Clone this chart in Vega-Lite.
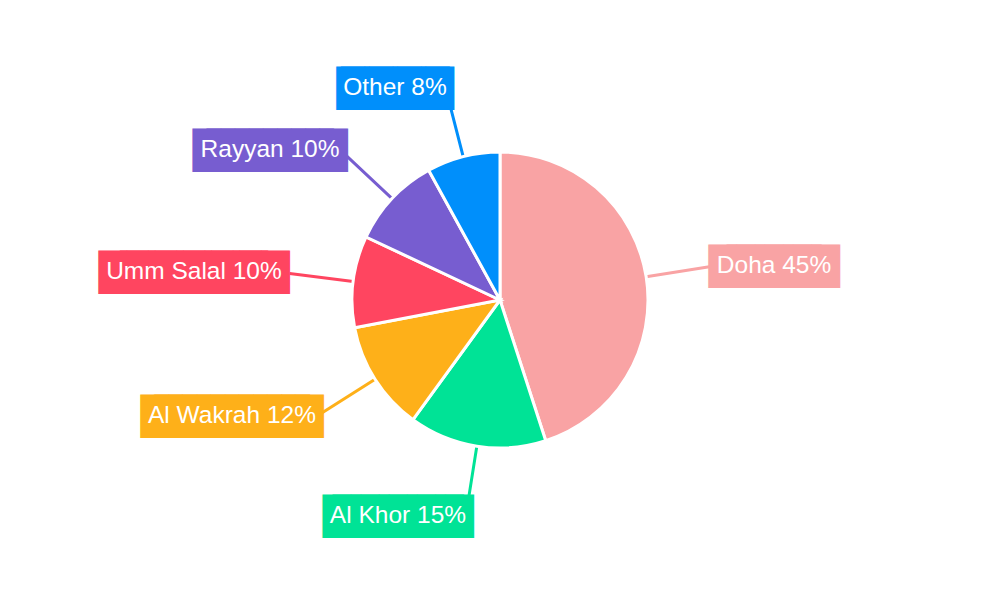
{
  "$schema": "https://vega.github.io/schema/vega-lite/v6.json",
  "width": 1000,
  "height": 600,
  "autosize": {"type": "fit", "contains": "padding"},
  "background": "white",
  "view": {"stroke": null},
  "data": {
    "values": [
      {"region": "Doha", "share": 45},
      {"region": "Al Khor", "share": 15},
      {"region": "Al Wakrah", "share": 12},
      {"region": "Umm Salal", "share": 10},
      {"region": "Rayyan", "share": 10},
      {"region": "Other", "share": 8}
    ]
  },
  "transform": [
    {"stack": "share", "groupby": [], "as": ["start", "end"]},
    {"calculate": "(datum.start + datum.end) / 2", "as": "mid"},
    {"calculate": "datum.region + ' ' + datum.share + '%'", "as": "label"}
  ],
  "config": {
    "text": {"font": "Liberation Sans", "fontSize": 24.5, "baseline": "middle", "align": "center", "radius": 210}
  },
  "encoding": {
    "theta": {"field": "mid", "type": "quantitative", "stack": null, "scale": {"domain": [0, 100]}},
    "color": {
      "field": "region",
      "type": "nominal",
      "legend": null,
      "scale": {
        "domain": ["Doha", "Al Khor", "Al Wakrah", "Umm Salal", "Rayyan", "Other"],
        "range": ["#F9A3A4", "#00E396", "#FEB019", "#FF4560", "#775DD0", "#008FFB"]
      }
    }
  },
  "layer": [
    {
      "mark": {"type": "arc", "filled": false, "strokeWidth": 3, "radius": 212, "radius2": 140},
      "encoding": {"theta2": {"field": "mid"}}
    },
    {
      "mark": {"type": "arc", "radius": 148, "stroke": "white", "strokeWidth": 3},
      "encoding": {
        "theta": {"field": "start", "type": "quantitative", "stack": null},
        "theta2": {"field": "end"}
      }
    },
    {
      "transform": [{"filter": "datum.region == 'Doha'"}],
      "layer": [
        {"mark": {"type": "text", "text": "████", "font": "DejaVu Sans", "fontSize": 36.7, "dx": 57.4, "dy": 0.8}},
        {"mark": {"type": "text", "text": "████", "font": "DejaVu Sans", "fontSize": 36.7, "dx": 75.8, "dy": 0.8}},
        {"mark": {"type": "text", "dx": 66.6, "dy": -1.2}, "encoding": {"text": {"field": "label"}, "color": {"value": "white"}}}
      ]
    },
    {
      "transform": [{"filter": "datum.region == 'Al Khor'"}],
      "layer": [
        {"mark": {"type": "text", "text": "█████", "font": "DejaVu Sans", "fontSize": 36.7, "dx": -74.2, "dy": 10.6}},
        {"mark": {"type": "text", "text": "█████", "font": "DejaVu Sans", "fontSize": 36.7, "dx": -64.2, "dy": 10.6}},
        {"mark": {"type": "text", "dx": -69.2, "dy": 8.6}, "encoding": {"text": {"field": "label"}, "color": {"value": "white"}}}
      ]
    },
    {
      "transform": [{"filter": "datum.region == 'Al Wakrah'"}],
      "layer": [
        {"mark": {"type": "text", "text": "██████", "font": "DejaVu Sans", "fontSize": 36.7, "dx": -97.5, "dy": 5.5}},
        {"mark": {"type": "text", "text": "██████", "font": "DejaVu Sans", "fontSize": 36.7, "dx": -83.9, "dy": 5.5}},
        {"mark": {"type": "text", "dx": -90.7, "dy": 3.5}, "encoding": {"text": {"field": "label"}, "color": {"value": "white"}}}
      ]
    },
    {
      "transform": [{"filter": "datum.region == 'Umm Salal'"}],
      "layer": [
        {"mark": {"type": "text", "text": "██████", "font": "DejaVu Sans", "fontSize": 36.7, "dx": -108.5, "dy": 0.3}},
        {"mark": {"type": "text", "text": "██████", "font": "DejaVu Sans", "fontSize": 36.7, "dx": -86.9, "dy": 0.3}},
        {"mark": {"type": "text", "dx": -97.7, "dy": -1.7}, "encoding": {"text": {"field": "label"}, "color": {"value": "white"}}}
      ]
    },
    {
      "transform": [{"filter": "datum.region == 'Rayyan'"}],
      "layer": [
        {"mark": {"type": "text", "text": "█████", "font": "DejaVu Sans", "fontSize": 36.7, "dx": -83.9, "dy": -4.3}},
        {"mark": {"type": "text", "text": "█████", "font": "DejaVu Sans", "fontSize": 36.7, "dx": -69.9, "dy": -4.3}},
        {"mark": {"type": "text", "dx": -76.9, "dy": -6.3}, "encoding": {"text": {"field": "label"}, "color": {"value": "white"}}}
      ]
    },
    {
      "transform": [{"filter": "datum.region == 'Other'"}],
      "layer": [
        {"mark": {"type": "text", "text": "████", "font": "DejaVu Sans", "fontSize": 36.7, "dx": -55, "dy": -6.6}},
        {"mark": {"type": "text", "text": "████", "font": "DejaVu Sans", "fontSize": 36.7, "dx": -50.6, "dy": -6.6}},
        {"mark": {"type": "text", "dx": -52.8, "dy": -8.6}, "encoding": {"text": {"field": "label"}, "color": {"value": "white"}}}
      ]
    }
  ]
}
